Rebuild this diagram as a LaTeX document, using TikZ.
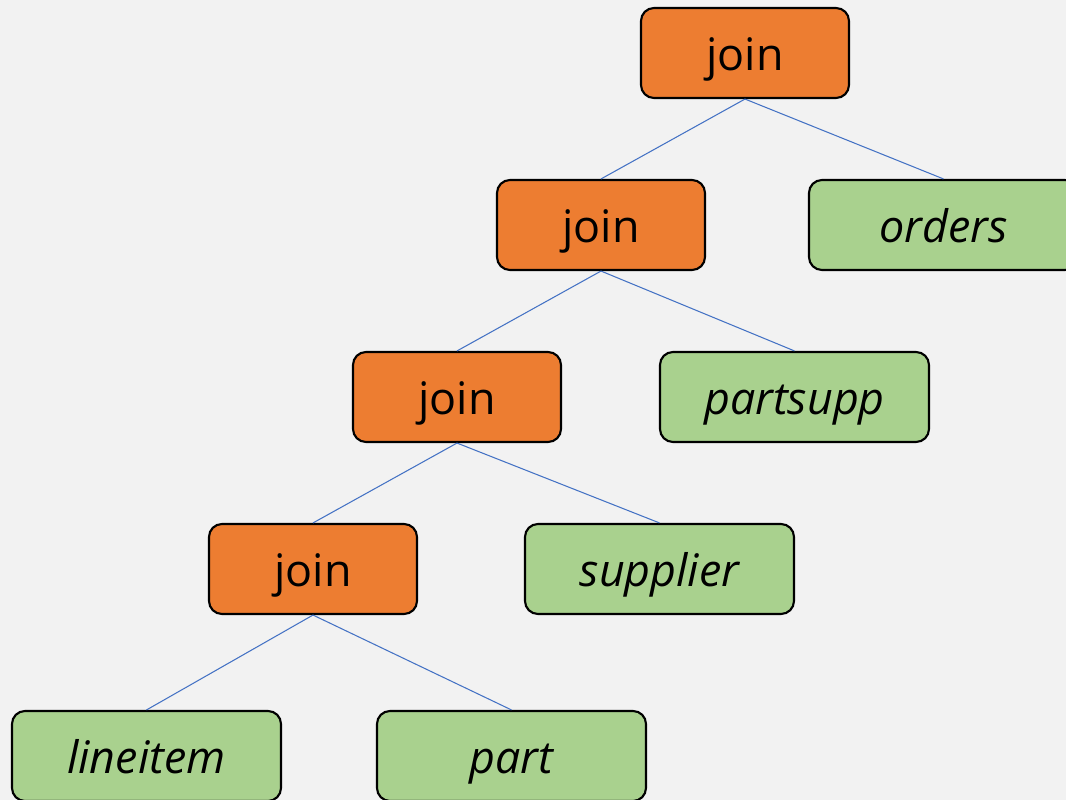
\documentclass[tikz,border=0pt]{standalone}
\usepackage{fontspec}
\setmainfont{Open Sans}
\definecolor{joinfill}{HTML}{ED7D31}
\definecolor{tablefill}{HTML}{A9D18E}
\definecolor{edgeblue}{HTML}{4472C4}
\definecolor{paper}{HTML}{F2F2F2}
\begin{document}
\begin{tikzpicture}
[joindecorate/.style={shape=rectangle,rounded corners=0.26cm,draw,line width=1.2pt,
   fill=joinfill,minimum width=4.16cm,minimum height=1.8cm,inner sep=0pt,
   text height=19.4pt,text depth=0pt,
   font=\fontsize{25.5}{30}\selectfont},%
  tabledecorate/.style={joindecorate,fill=tablefill,minimum width=5.38cm,
   font=\fontsize{25.5}{30}\selectfont\itshape},%
  linedecorate/.style={-,edgeblue,line width=0.6pt}]
%% canvas
\fill[paper] (0,0) rectangle (21.32,-16);
\useasboundingbox (0,0) rectangle (21.32,-16);
\clip (0,0) rectangle (21.32,-16);
%% join operators
\foreach \nodename/\x/\y in {
  j1/14.90/-1.06, j2/12.02/-4.50, j3/9.14/-7.94, j4/6.26/-11.38} {
  \node (\nodename) at (\x,\y) [joindecorate] {join};
}
%% base tables
\foreach \nodename/\x/\y in {
  orders/18.87/-4.50, partsupp/15.89/-7.94, supplier/13.19/-11.38,
  lineitem/2.93/-15.12, part/10.23/-15.12} {
  \node (\nodename) at (\x,\y) [tabledecorate] {\nodename};
}
%% edges or lines
\path
\foreach \startnode/\endnode in {j1/j2, j1/orders, j2/j3, j2/partsupp,
  j3/j4, j3/supplier, j4/lineitem, j4/part} {
  (\startnode.south) edge[linedecorate] (\endnode.north)
};
\end{tikzpicture}
\end{document}
